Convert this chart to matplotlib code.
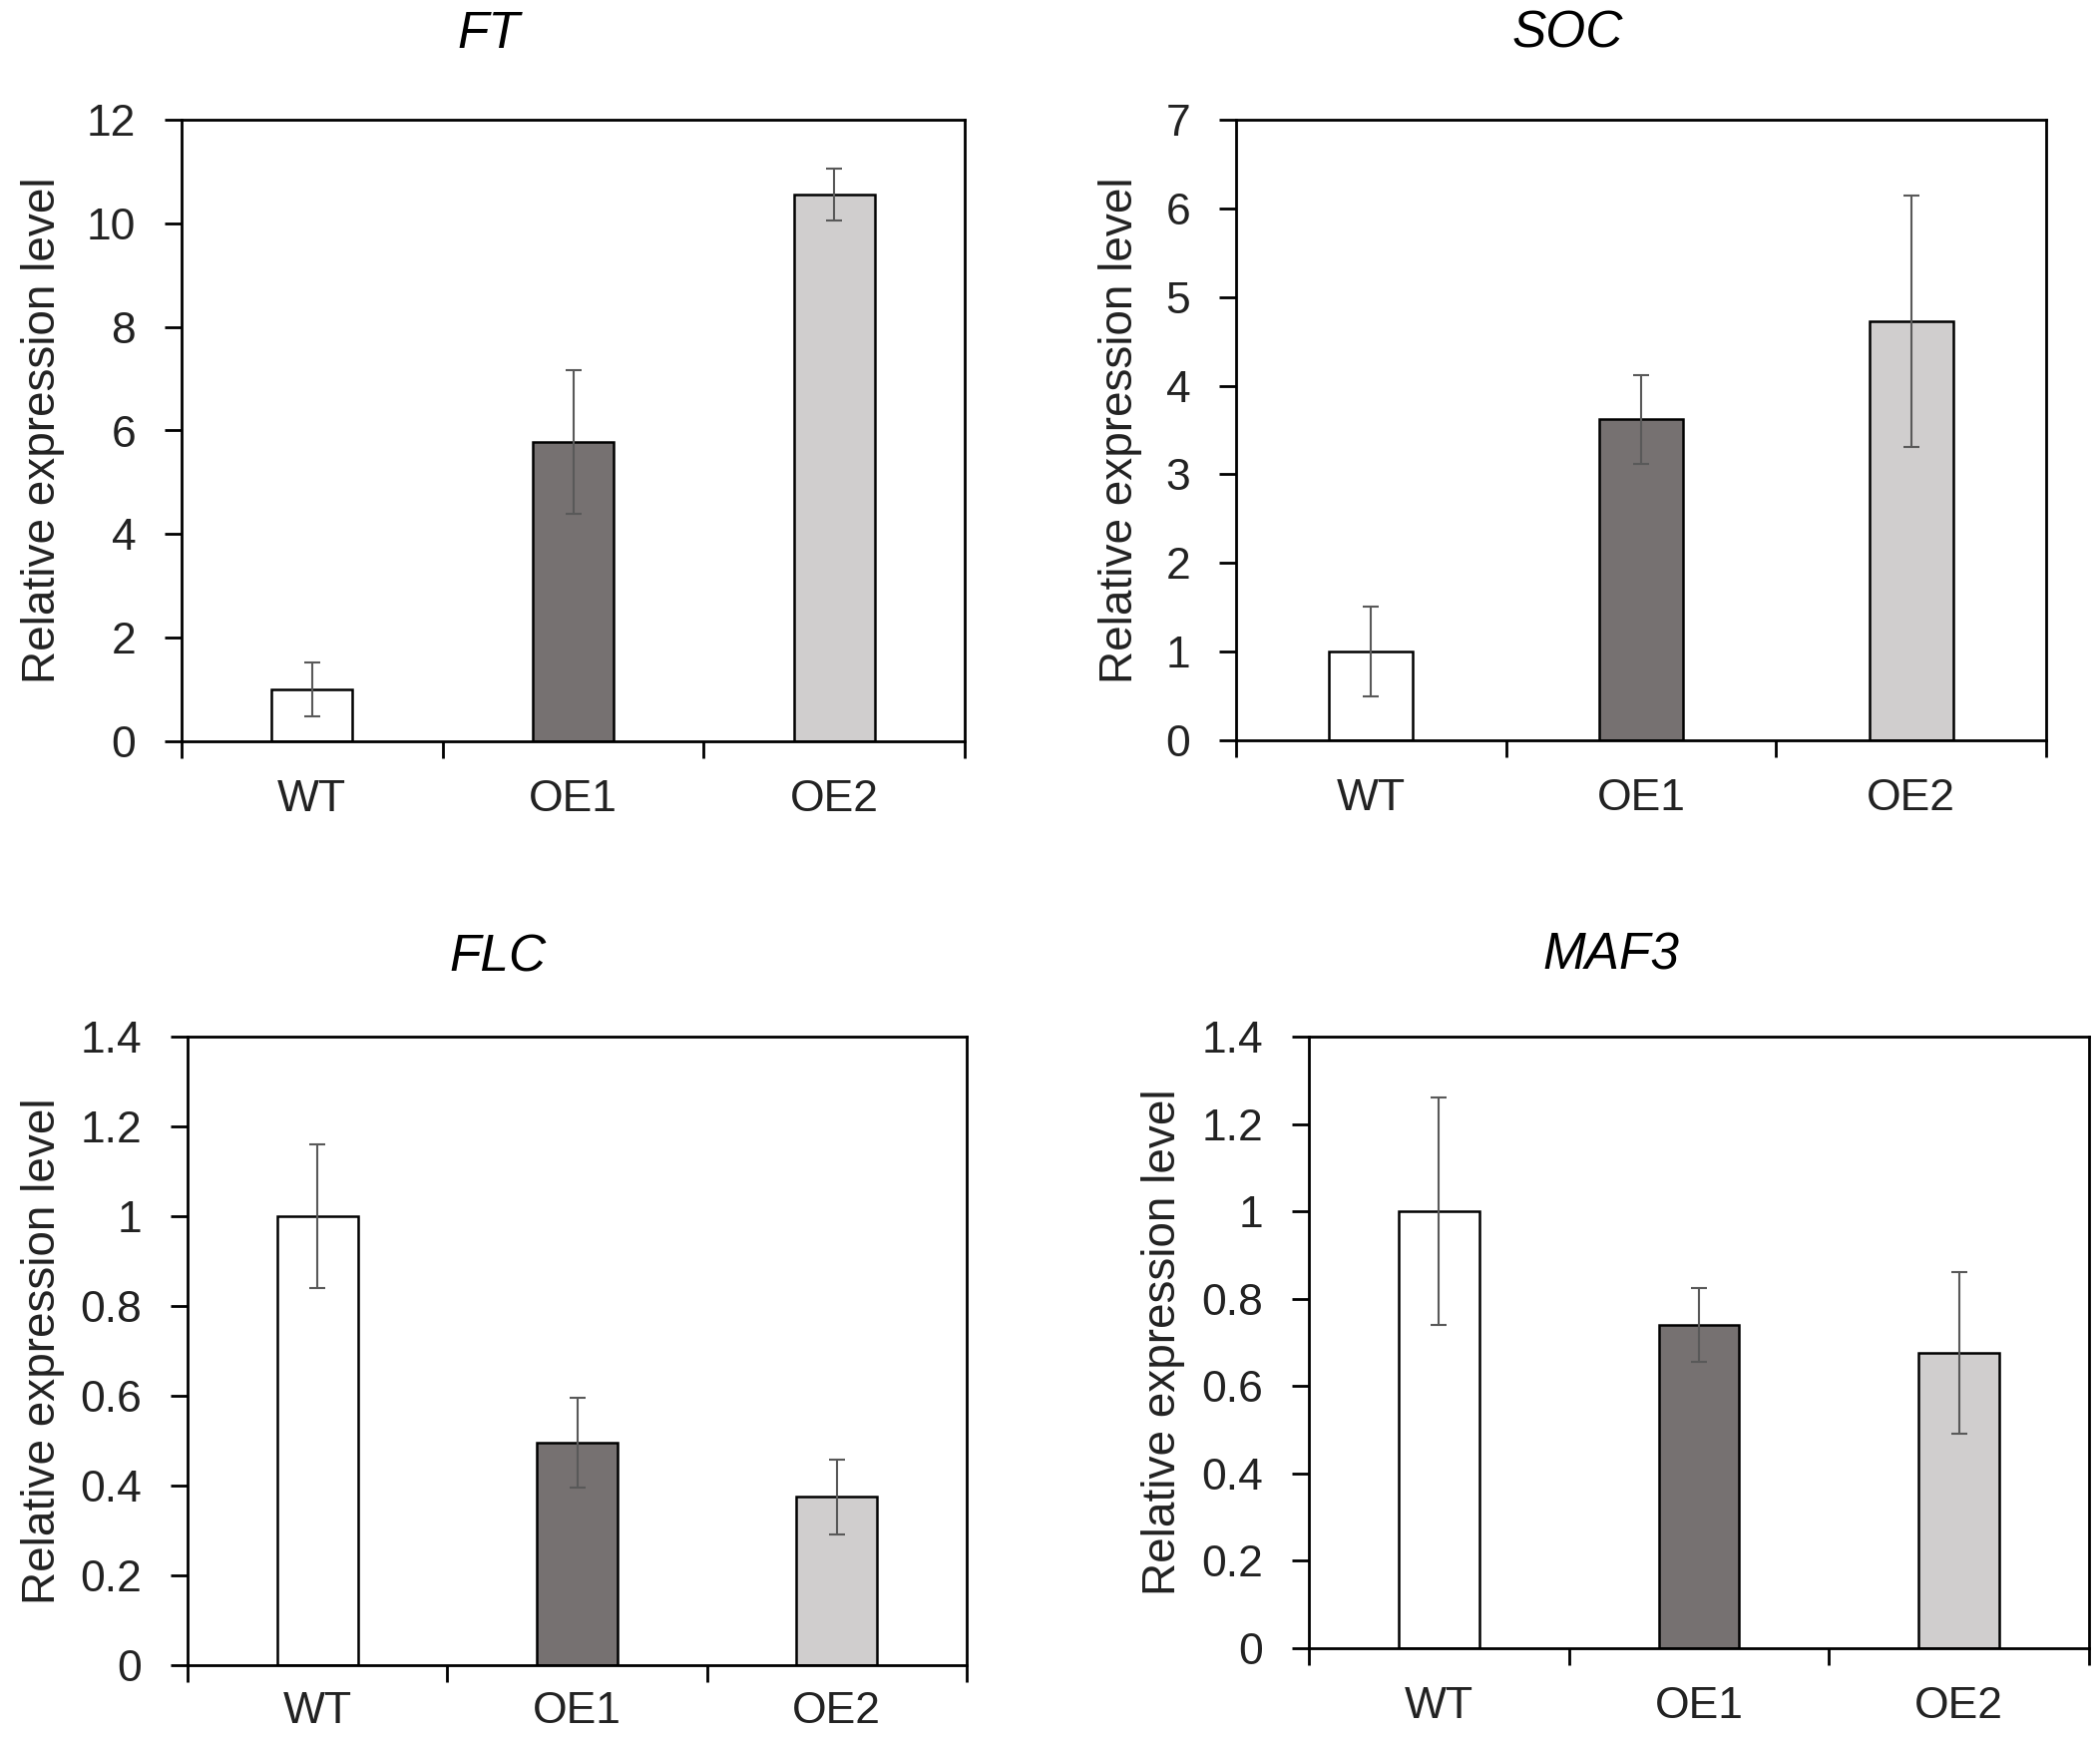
import numpy as np
import matplotlib
matplotlib.use('Agg')
import matplotlib.pyplot as plt

plt.rcParams['font.family'] = ['Liberation Sans', 'DejaVu Sans']

# Genotypes and bar colours
genotypes = ['WT', 'OE1', 'OE2']
bar_colors = ['#ffffff', '#767171', '#d0cece']

# Gene names (titles)
genes = ['FT', 'SOC', 'FLC', 'MAF3']

# Mean relative expression and error
ft_mean = [1.0, 5.78, 10.55]
ft_err = [0.52, 1.39, 0.50]
soc_mean = [1.0, 3.62, 4.73]
soc_err = [0.51, 0.50, 1.42]
flc_mean = [1.0, 0.495, 0.375]
flc_err = [0.16, 0.10, 0.083]
maf3_mean = [1.0, 0.74, 0.675]
maf3_err = [0.26, 0.085, 0.185]

# y axis ticks
ft_ticks = [0, 2, 4, 6, 8, 10, 12]
soc_ticks = [0, 1, 2, 3, 4, 5, 6, 7]
flc_ticks = [0, 0.2, 0.4, 0.6, 0.8, 1, 1.2, 1.4]
maf3_ticks = [0, 0.2, 0.4, 0.6, 0.8, 1, 1.2, 1.4]

W, H = 2105, 1742
fig = plt.figure(figsize=(W / 100, H / 100), dpi=100)

# axes boxes in pixels: left, right, top, bottom
boxes = [(182, 967, 120, 743), (1239, 2051, 120, 742),
         (188, 969, 1039, 1669), (1312, 2094, 1039, 1652)]
title_pos = [(490, 34), (1571, 34), (499, 960), (1615, 958)]
ylab_x = [43, 1123, 43, 1166]
xlab_pad = [27, 27, 19, 27]

panels = [(ft_mean, ft_err, ft_ticks), (soc_mean, soc_err, soc_ticks),
          (flc_mean, flc_err, flc_ticks), (maf3_mean, maf3_err, maf3_ticks)]

fs = 32
for i, (mean, err, ticks) in enumerate(panels):
    l, r, t, b = boxes[i]
    ax = fig.add_axes([l / W, 1 - b / H, (r - l) / W, (b - t) / H])
    x = np.arange(len(genotypes))
    ax.bar(x, mean, width=0.31, color=bar_colors, edgecolor='black',
           linewidth=1.8, zorder=2)
    ax.errorbar(x, mean, yerr=err, fmt='none', ecolor='#595959',
                elinewidth=1.5, capsize=6, capthick=1.5, zorder=3)
    ax.set_xlim(-0.5, 2.5)
    ax.set_ylim(ticks[0], ticks[-1])
    ax.set_yticks(ticks)
    ax.set_yticklabels([('%g' % v) for v in ticks], fontsize=fs, color='#222222')
    ax.set_xticks(x)
    ax.set_xticklabels(genotypes, fontsize=fs, color='#222222')
    ax.tick_params(axis='x', which='major', length=0, pad=xlab_pad[i])
    ax.set_xticks([-0.5, 0.5, 1.5, 2.5], minor=True)
    ax.tick_params(axis='x', which='minor', length=12, width=2, direction='out')
    ax.tick_params(axis='y', length=12, width=2, direction='out', pad=21)
    for s in ax.spines.values():
        s.set_linewidth(2)
    tx, ty = title_pos[i]
    fig.text(tx / W, 1 - ty / H, genes[i], fontsize=37, style='italic',
             ha='center', va='center')
    fig.text(ylab_x[i] / W, 1 - ((t + b) / 2) / H, 'Relative expression level',
             fontsize=33, rotation=90, ha='center', va='center', color='#222222')

fig.savefig('out.png', dpi=100)
